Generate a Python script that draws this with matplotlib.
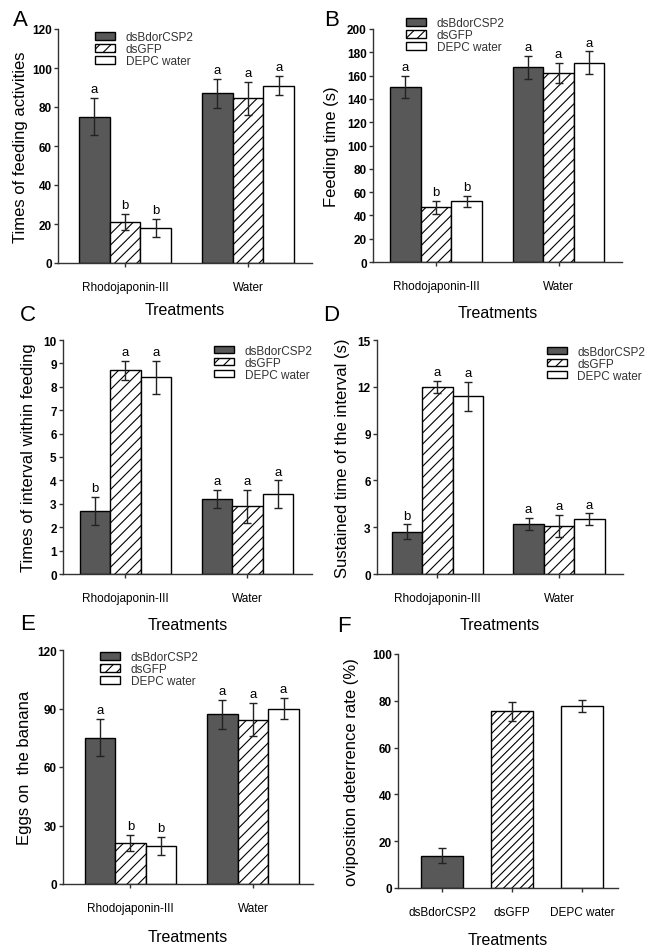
import matplotlib
matplotlib.use("Agg")
import matplotlib.pyplot as plt
import numpy as np

plt.rcParams['font.family'] = ['Liberation Sans', 'DejaVu Sans']
plt.rcParams['hatch.color'] = 'black'
plt.rcParams['hatch.linewidth'] = 0.8

conditions = ["Rhodojaponin-III", "Water"]
groups = ["dsBdorCSP2", "dsGFP", "DEPC water"]

# rows: condition, columns: group
feed_count = [[75, 21, 18], [87, 84.5, 91]]
feed_count_err = [[9.5, 4.0, 4.7], [7.3, 8.5, 5.0]]
feed_count_sig = [["a", "b", "b"], ["a", "a", "a"]]

feed_time = [[150, 47, 52], [167, 162.5, 171]]
feed_time_err = [[9.5, 5.5, 4.8], [10, 8.5, 9.8]]
feed_time_sig = [["a", "b", "b"], ["a", "a", "a"]]

interval_count = [[2.7, 8.7, 8.4], [3.2, 2.9, 3.4]]
interval_count_err = [[0.6, 0.42, 0.72], [0.4, 0.7, 0.6]]
interval_count_sig = [["b", "a", "a"], ["a", "a", "a"]]

interval_time = [[2.7, 12.0, 11.4], [3.2, 3.1, 3.5]]
interval_time_err = [[0.48, 0.37, 0.92], [0.4, 0.7, 0.38]]
interval_time_sig = [["b", "a", "a"], ["a", "a", "a"]]

eggs = [[75, 21, 19.6], [87, 84.3, 90]]
eggs_err = [[9.5, 4.1, 4.6], [7.3, 8.5, 5.3]]
eggs_sig = [["a", "b", "b"], ["a", "a", "a"]]

deterrence = [13.7, 75.5, 77.8]
deterrence_err = [3.2, 4.0, 2.7]

faces = ['#585858', 'white', 'white']
hatches = [None, '///', None]

W, H = 653, 953
fig = plt.figure(figsize=(W / 100, H / 100), dpi=100)


def make_ax(x0, y0, x1, y1):
    ax = fig.add_axes([x0 / W, 1 - y1 / H, (x1 - x0) / W, (y1 - y0) / H])
    for s in ['top', 'right']:
        ax.spines[s].set_visible(False)
    for s in ['left', 'bottom']:
        ax.spines[s].set_color('#333333')
        ax.spines[s].set_linewidth(1)
    ax.tick_params(axis='y', direction='out', length=3, width=1, color='#333333',
                   labelsize=8.5, pad=1.5)
    ax.tick_params(axis='x', direction='out', length=3, width=1, color='#333333',
                   labelsize=8.5, pad=10)
    return ax


def labels(ax, ylabel, ylab_x, xlab_y):
    ax.set_ylabel(ylabel, fontsize=12)
    ax.yaxis.set_label_coords(ylab_x, 0.5)
    ax.yaxis.label.set_va('center')
    ax.set_xlabel("Treatments", fontsize=11.5)
    ax.xaxis.set_label_coords(0.5, xlab_y)
    ax.xaxis.label.set_va('center')


def grouped(rect, vals, errs, sig, yticks, xlim, ylabel, ylab_x, xlab_y, leg_xy):
    ax = make_ax(*rect)
    w = 0.25
    for j, g in enumerate(groups):
        xs = np.arange(len(conditions)) + (j - 1) * w
        m = [vals[i][j] for i in range(len(conditions))]
        e = [errs[i][j] for i in range(len(conditions))]
        ax.bar(xs, m, w, color=faces[j], hatch=hatches[j], edgecolor='black',
               linewidth=1, label=g, zorder=2)
        ax.errorbar(xs, m, yerr=e, fmt='none', ecolor='#222222', elinewidth=1,
                    capsize=3, capthick=1, zorder=3)
        for i in range(len(conditions)):
            ax.annotate(sig[i][j], (xs[i], m[i] + e[i]), xytext=(0, 2),
                        textcoords='offset points', ha='center', va='bottom',
                        fontsize=9.5)
    ax.set_xticks(range(len(conditions)))
    ax.set_xticklabels(conditions)
    ax.set_xlim(*xlim)
    ax.set_ylim(yticks[0], yticks[-1])
    ax.set_yticks(yticks)
    ax.set_yticklabels([str(t) for t in yticks], fontweight='bold')
    labels(ax, ylabel, ylab_x, xlab_y)
    ax.legend(loc='upper left', bbox_to_anchor=leg_xy, frameon=False,
              fontsize=8.5, handlelength=1.7, handleheight=0.6,
              handletextpad=0.9, labelspacing=0.0, borderpad=0,
              borderaxespad=0, labelcolor='#333333')
    return ax


grouped((58, 30, 312, 264), feed_count, feed_count_err, feed_count_sig,
        list(range(0, 121, 20)), (-0.545, 1.52), "Times of feeding activities",
        -0.146, -0.197, (0.146, 0.99))
grouped((373, 30, 622, 263), feed_time, feed_time_err, feed_time_sig,
        list(range(0, 201, 20)), (-0.514, 1.518), "Feeding time (s)",
        -0.165, -0.215, (0.133, 1.05))
grouped((63, 341, 312, 575), interval_count, interval_count_err, interval_count_sig,
        list(range(0, 11, 1)), (-0.512, 1.53), "Times of interval within feeding",
        -0.14, -0.214, (0.606, 0.98))
grouped((377, 341, 623, 575), interval_time, interval_time_err, interval_time_sig,
        list(range(0, 16, 3)), (-0.498, 1.527), "Sustained time of the interval (s)",
        -0.142, -0.214, (0.69, 0.975))
grouped((63, 651, 313, 885), eggs, eggs_err, eggs_sig,
        list(range(0, 121, 30)), (-0.551, 1.49), "Eggs on  the banana",
        -0.152, -0.226, (0.148, 0.995))

# panel F
ax = make_ax(398, 655, 618, 889)
xs = np.arange(len(groups))
ax.bar(xs, deterrence, 0.6, color=faces, edgecolor='black', linewidth=1,
       hatch=[None, '////', None], zorder=2)
ax.errorbar(xs, deterrence, yerr=deterrence_err, fmt='none', ecolor='#222222',
            elinewidth=1, capsize=3, capthick=1, zorder=3)
ax.set_xticks(xs)
ax.set_xticklabels(groups)
ax.set_xlim(-0.63, 2.51)
fticks = list(range(0, 101, 20))
ax.set_ylim(0, 100)
ax.set_yticks(fticks)
ax.set_yticklabels([str(t) for t in fticks], fontweight='bold')
labels(ax, "oviposition deterrence rate (%)", -0.21, -0.218)

for letter, (px, py) in zip("ABCDEF", [(13, 21), (324, 21), (20, 316),
                                       (323, 316), (20, 625), (337, 627)]):
    fig.text(px / W, 1 - py / H, letter, fontsize=16, ha='left', va='center')

fig.savefig("out.png", dpi=100)
